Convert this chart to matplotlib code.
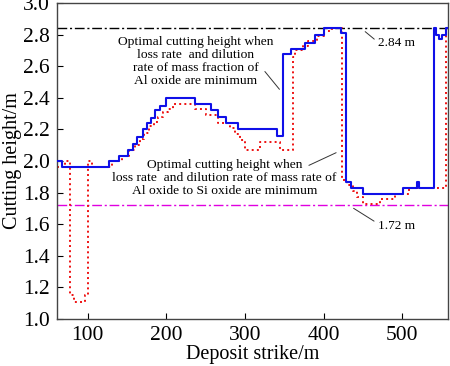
"""
plot.py — optimal cutting height along deposit strike.

Blue solid step: optimum for loss rate + dilution rate of Al oxide mass fraction.
Red dotted step: optimum for loss rate + dilution rate of Al/Si oxide mass ratio.
"""

import matplotlib
matplotlib.use("Agg")
import matplotlib.pyplot as plt

plt.rcParams["font.family"] = ["Liberation Serif", "DejaVu Serif"]

# ── Data (step curves, value holds until next x) ─────────────────────────────

blue_x = [61, 67, 127, 140, 151, 157, 163, 170, 175, 181, 185, 192, 199,
          237, 257, 266, 276, 291, 341, 348, 359, 376, 389, 401, 422, 428,
          435, 450, 501, 519, 521, 540, 543, 547, 550, 555, 558]
blue_y = [2.00, 1.96, 2.00, 2.03, 2.07, 2.11, 2.15, 2.20, 2.24, 2.27, 2.32, 2.35, 2.40,
          2.36, 2.32, 2.28, 2.24, 2.20, 2.16, 2.68, 2.71, 2.75, 2.80, 2.84, 2.81, 1.87,
          1.83, 1.79, 1.83, 1.87, 1.83, 2.84, 2.80, 2.77, 2.80, 2.84, 2.84]

red_x = [61, 71, 78, 83, 97, 101, 105, 131, 143, 153, 160, 166, 172, 178, 184,
         190, 196, 202, 208, 237, 251, 266, 281, 287, 293, 300, 319, 344, 361,
         363, 374, 380, 391, 401, 410, 423, 429, 437, 442, 450, 471, 490, 509,
         556, 558]
red_y = [1.96, 2.00, 1.15, 1.11, 1.15, 2.00, 1.96, 2.00, 2.03, 2.07, 2.10, 2.14, 2.18, 2.22, 2.25,
         2.28, 2.31, 2.33, 2.36, 2.33, 2.29, 2.24, 2.21, 2.17, 2.13, 2.07, 2.12, 2.07, 2.66,
         2.70, 2.73, 2.76, 2.79, 2.82, 2.84, 1.88, 1.85, 1.81, 1.77, 1.73, 1.76, 1.79, 1.83,
         2.84, 2.84]

upper_ref = 2.84
lower_ref = 1.72

x_ticks = [100, 200, 300, 400, 500]
y_ticks = [1.0, 1.2, 1.4, 1.6, 1.8, 2.0, 2.2, 2.4, 2.6, 2.8, 3.0]

note_al = ("Optimal cutting height when\nloss rate  and dilution\n"
           "rate of mass fraction of\nAl oxide are minimum")
note_alsi = ("Optimal cutting height when\nloss rate  and dilution rate of mass rate of\n"
             "Al oxide to Si oxide are minimum")


def main() -> None:
    fig = plt.figure(figsize=(4.5, 3.66), dpi=100)
    ax = fig.add_axes([57 / 450, 1 - 319 / 366, 391 / 450, 316 / 366])

    dash = (0, (7, 2, 1.5, 2))
    ax.axhline(upper_ref, color="black", lw=1.0, ls=dash, zorder=1)
    ax.axhline(lower_ref, color="#e000e0", lw=1.0, ls=dash, zorder=1)

    ax.step(red_x, red_y, where="post", color="#ee1111", lw=1.4, ls=":", zorder=2)
    ax.step(blue_x, blue_y, where="post", color="#1010e8", lw=1.5, zorder=3)

    # annotations
    ax.text(237.5, 2.79, note_al, ha="center", va="top", fontsize=9.7,
            linespacing=1.12)
    ax.text(274, 2.012, note_alsi, ha="center", va="top", fontsize=9.7,
            linespacing=1.12)
    ax.text(469, 2.745, "2.84 m", ha="left", va="center", fontsize=9.5)
    ax.text(469, 1.59, "1.72 m", ha="left", va="center", fontsize=9.5)

    lead = dict(arrowstyle="-", color="#333333", lw=0.7)
    ax.annotate("", xy=(346, 2.44), xytext=(323, 2.58), arrowprops=lead)
    ax.annotate("", xy=(419, 2.06), xytext=(378, 1.965), arrowprops=lead)
    ax.annotate("", xy=(450, 2.83), xytext=(467, 2.76), arrowprops=lead)
    ax.annotate("", xy=(435, 1.71), xytext=(467, 1.61), arrowprops=lead)

    ax.set_xlim(61, 558)
    ax.set_ylim(1.0, 3.0)
    ax.set_xticks(x_ticks)
    ax.set_yticks(y_ticks)
    ax.set_yticklabels([f"{v:.1f}" for v in y_ticks])
    ax.tick_params(direction="in", length=4, width=0.8, labelsize=15.5, pad=5)

    for sp in ax.spines.values():
        sp.set_color("#444444")
        sp.set_linewidth(1.0)

    ax.set_xlabel("Deposit strike/m", fontsize=14.5, labelpad=0)
    ax.set_ylabel("Cutting height/m", fontsize=14.5, labelpad=1)

    fig.savefig("out.png", dpi=100)
    plt.close(fig)


if __name__ == "__main__":
    main()
